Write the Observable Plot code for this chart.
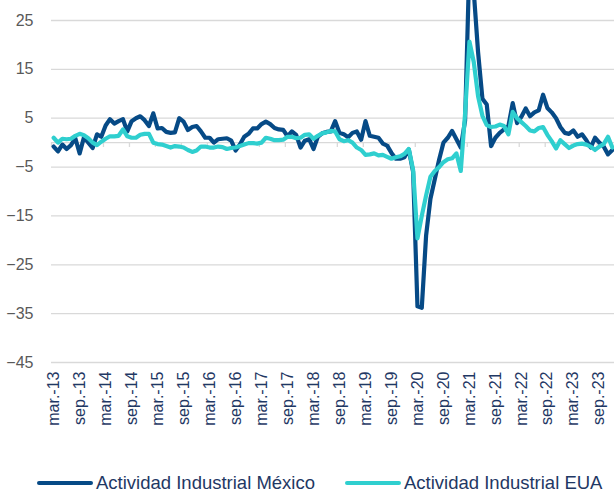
<!DOCTYPE html>
<html>
<head>
<meta charset="utf-8">
<script src="https://cdn.jsdelivr.net/npm/d3@7"></script>
<script src="https://cdn.jsdelivr.net/npm/@observablehq/plot@0.6"></script>
<style>
  body { margin: 0; background: #ffffff; font-family: "Liberation Sans", Arial, sans-serif; }
  #chart svg { display: block; }
  #legend { position: relative; height: 34px; width: 614px; }
  .item { position: absolute; top: 0; display: flex; align-items: center; height: 24px; }
  .sw { width: 56px; height: 4px; border-radius: 2px; margin-right: 3px; }
  .lt { font-size: 18.5px; color: #1f3864; white-space: nowrap; }
</style>
</head>
<body>
<div id="chart"></div>
<div id="legend"></div>
<script>
// Month index 0 = mar-13 ... 129 = dic-23
const mexico = [
  -0.8,-1.8,-0.4,-1.3,-0.5,0.9,-2.2,1.1,0.0,-1.1,
  1.7,1.2,3.5,4.8,3.9,4.4,4.8,2.3,4.4,5.0,
  5.4,4.6,3.4,6.0,2.9,3.0,2.2,2.0,2.1,5.0,
  4.3,2.6,3.2,3.4,2.3,1.0,1.0,0.0,0.7,0.8,
  0.9,0.4,-1.6,-0.4,1.2,1.8,2.9,2.9,3.8,4.3,
  3.8,3.0,2.7,2.6,1.3,2.3,1.6,-1.0,0.4,0.7,
  -1.3,1.2,1.9,2.2,2.3,4.4,2.0,1.7,1.1,2.0,
  2.3,0.6,4.4,1.4,1.2,1.0,-0.2,-0.6,-2.1,-3.3,
  -3.3,-3.0,-1.4,-6.0,-33.5,-33.8,-19.0,-11.5,-7.5,-3.5,
  0.0,1.0,2.4,0.7,-1.0,4.5,37.0,31.0,18.5,9.0,
  7.8,-0.7,1.0,2.0,2.7,3.4,8.1,4.0,5.3,7.0,
  5.4,6.2,6.6,9.8,7.1,6.2,5.0,3.2,2.0,1.8,
  2.5,1.2,1.7,0.5,-1.0,1.0,0.0,-0.8,-2.4,-1.5
];
const eua = [
  1.0,0.0,0.8,0.7,0.8,1.4,1.8,1.5,0.9,0.0,
  -0.5,0.2,0.8,1.3,1.3,1.4,2.7,1.3,1.0,1.0,
  1.6,1.8,1.8,0.0,-0.3,-0.4,-0.7,-1.0,-0.7,-0.8,
  -1.0,-1.5,-1.9,-1.6,-0.8,-0.8,-1.0,-1.0,-0.8,-0.9,
  -1.3,-1.1,-1.0,-0.7,-0.4,-0.1,-0.1,-0.2,0.0,1.0,
  0.8,0.5,0.5,0.6,1.2,1.2,0.9,1.0,1.6,1.7,
  0.8,1.4,1.9,2.1,2.4,2.3,0.7,0.3,0.5,0.0,
  -1.0,-1.5,-2.5,-2.4,-2.2,-2.6,-2.5,-2.9,-3.3,-3.0,
  -2.8,-2.3,-1.3,-5.6,-19.6,-15.0,-10.8,-7.0,-5.8,-5.0,
  -4.0,-3.4,-3.2,-2.2,-5.8,6.0,20.7,16.5,9.5,5.5,
  3.6,3.2,3.3,3.7,3.4,1.7,6.3,5.0,4.2,3.4,
  2.5,2.3,3.0,3.2,1.6,0.3,-1.2,0.5,-0.3,-1.1,
  -0.6,-0.3,-0.2,-0.4,-0.8,-1.5,-0.8,-0.3,1.2,-1.0
];
const tickLabels = [
  "mar.-13","sep.-13","mar.-14","sep.-14","mar.-15","sep.-15","mar.-16","sep.-16",
  "mar.-17","sep.-17","mar.-18","sep.-18","mar.-19","sep.-19","mar.-20","sep.-20",
  "mar.-21","sep.-21","mar.-22","sep.-22","mar.-23","sep.-23"
];
const yTicks = [-45, -35, -25, -15, -5, 5, 15, 25];
const seriesNames = ["Actividad Industrial México", "Actividad Industrial EUA"];
const colors = ["#064a86", "#2fcfcf"];

const mxData = mexico.map((v, i) => ({i, v}));
const usData = eua.map((v, i) => ({i, v}));
const tickPos = tickLabels.map((_, j) => j * 6);
const tickMarks = tickLabels.map((_, j) => j * 6 - 0.5);

const chart = Plot.plot({
  width: 614,
  height: 460,
  marginLeft: 51,
  marginRight: 0,
  marginTop: 20,
  marginBottom: 98,
  style: {fontFamily: "Liberation Sans, Arial, sans-serif", background: "#ffffff", overflow: "hidden"},
  x: {domain: [-0.5, mexico.length - 0.5], ticks: tickPos, tickFormat: d => tickLabels[Math.round(d / 6)], tickRotate: -90, tickSize: 0, tickPadding: 9, label: null},
  y: {domain: [-45, 25], ticks: yTicks, tickSize: 0, tickPadding: 18, label: null},
  marks: [
    Plot.ruleY(yTicks, {stroke: "#d9d9d9", strokeWidth: 1.3}),
    Plot.ruleY([0], {stroke: "#d9d9d9", strokeWidth: 1.3}),
    Plot.ruleX(tickMarks, {y1: 0, y2: -1.0, stroke: "#d9d9d9", strokeWidth: 1.3}),
    Plot.line(mxData, {x: "i", y: "v", stroke: colors[0], strokeWidth: 4.2, strokeLinejoin: "round", strokeLinecap: "round"}),
    Plot.line(usData, {x: "i", y: "v", stroke: colors[1], strokeWidth: 4.2, strokeLinejoin: "round", strokeLinecap: "round"})
  ]
});
document.getElementById("chart").appendChild(chart);

// axis label styling
chart.querySelectorAll('g[aria-label^="y-axis"] text').forEach(t => { t.style.fill = "#595959"; t.style.fontSize = "16px"; });
chart.querySelectorAll('g[aria-label^="x-axis"] text').forEach(t => { t.style.fill = "#1f3864"; t.style.fontSize = "16px"; });

// legend
const legend = document.getElementById("legend");
const lefts = [37, 345];
seriesNames.forEach((name, k) => {
  const item = document.createElement("div");
  item.className = "item";
  item.style.left = lefts[k] + "px";
  item.style.top = "11px";
  const sw = document.createElement("div");
  sw.className = "sw";
  sw.style.background = colors[k];
  const lt = document.createElement("span");
  lt.className = "lt";
  lt.textContent = name;
  item.appendChild(sw);
  item.appendChild(lt);
  legend.appendChild(item);
});
</script>
</body>
</html>
